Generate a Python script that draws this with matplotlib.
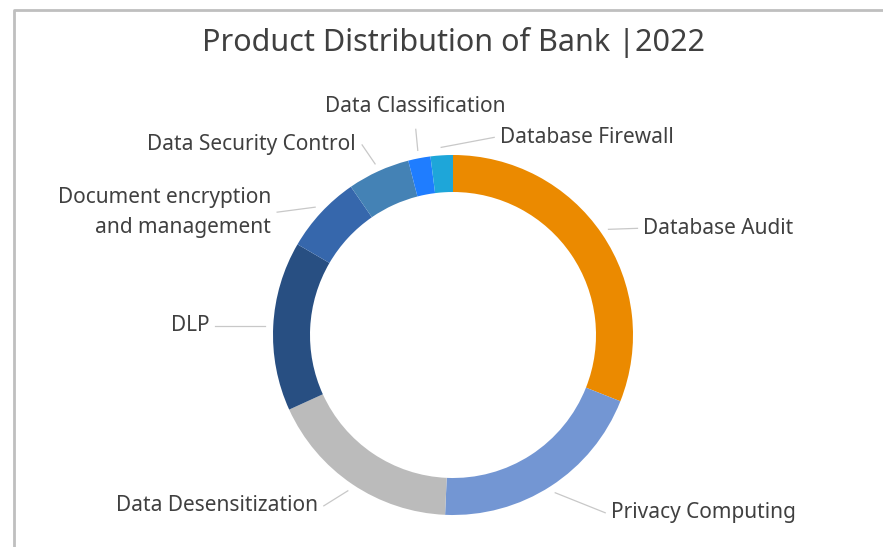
import numpy as np
import matplotlib
matplotlib.use("Agg")
import matplotlib.pyplot as plt

plt.rcParams['font.family'] = ['Noto Sans', 'DejaVu Sans']

categories = ["Database Audit", "Privacy Computing", "Data Desensitization", "DLP",
              "Document encryption\nand management", "Data Security Control",
              "Data Classification", "Database Firewall"]
values = [31.0, 19.7, 17.5, 15.2, 7.0, 5.6, 2.0, 2.0]
colors = ["#EB8A00", "#7396D3", "#BBBBBB", "#284F82", "#3667AC", "#4482B5", "#1F7DFF", "#1EA6D9"]

# label text offsets (pixels) from the leader start point, and alignment
label_offsets = [(35, -1), (56, 20), (-30, 15), (-56, 0), (-44, 5), (-19, -19), (-2, -44), (59, -10)]
label_ha = ["left", "left", "right", "right", "right", "right", "center", "left"]

W, H = 883, 547
fig = plt.figure(figsize=(W / 100, H / 100), dpi=100)
ax = fig.add_axes([0, 0, 1, 1])

# frame
ax.plot([14, 14, W + 5], [-5, H - 10, H - 10], color="#BFBFBF", lw=2, solid_capstyle='butt')

cx, cy = 453, H - 335
R = 180
width = 37
wedges, _ = ax.pie(values, colors=colors, startangle=90, counterclock=False,
                   radius=R, center=(cx, cy), wedgeprops=dict(width=width, linewidth=0),
                   frame=True)
ax.set_xlim(0, W)
ax.set_ylim(0, H)
ax.set_aspect('equal')
ax.axis('off')

tot = sum(values)
cum = 0
for i, v in enumerate(values):
    mid = (cum + v / 2) / tot * 360
    cum += v
    a = np.deg2rad(90 - mid)
    x0 = cx + (R + 8) * np.cos(a)
    y0 = cy + (R + 8) * np.sin(a)
    dx, dy = label_offsets[i]
    tx, ty = x0 + dx, y0 - dy
    if label_ha[i] == "left":
        ex, ey = tx - 6, ty
    elif label_ha[i] == "right":
        ex, ey = tx + 6, ty
    else:
        ex, ey = tx, ty - 23
    ax.plot([x0, ex], [y0, ey], color="#C8C8C8", lw=0.9)
    ax.text(tx, ty, categories[i], ha=label_ha[i], va='center',
            fontsize=15, color="#404040", linespacing=1.55)

ax.text(453, H - 42, "Product Distribution of Bank |2022", ha='center', va='center',
        fontsize=22, color="#404040")

fig.savefig("out.png", dpi=100)
